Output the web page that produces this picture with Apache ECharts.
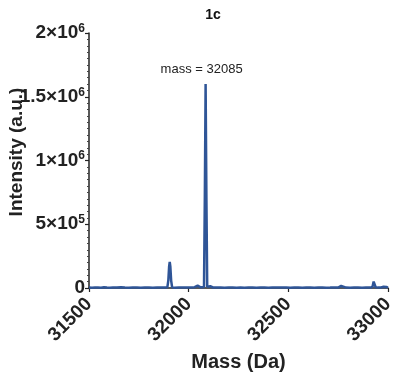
<!DOCTYPE html>
<html><head><meta charset="utf-8">
<script src="https://cdn.jsdelivr.net/npm/echarts@6/dist/echarts.min.js"></script>
<style>html,body{margin:0;padding:0;background:#fff}#c{width:401px;height:381px}</style>
</head><body><div id="c"></div>
<script>
const masses = [31500,31515,31530,31545,31560,31575,31590,31605,31620,31640,31660,31680,31700,31720,31740,31760,31780,31800,31820,31840,31860,31880,31893,31898,31902,31905,31908,31912,31917,31930,31950,31970,31990,32010,32030,32040,32045,32050,32060,32070,32077,32081,32085,32089,32093,32100,32108,32114,32122,32140,32160,32180,32200,32220,32240,32260,32280,32300,32320,32340,32360,32380,32400,32420,32440,32460,32465,32470,32490,32510,32530,32550,32570,32590,32610,32630,32650,32670,32690,32710,32725,32730,32735,32750,32760,32765,32770,32790,32810,32830,32850,32870,32890,32910,32922,32928,32932,32938,32950,32965,32978,32985,32992,33000];
const intensity = [3000,2000,4000,3000,2000,5000,3000,2000,4000,3000,5000,3000,2000,4000,3000,2000,4000,3000,2000,3000,4000,3000,5000,60000,170000,205000,170000,60000,5000,2000,3000,4000,3000,3000,6000,10000,18000,9000,5000,4000,8000,700000,1600000,700000,9000,5000,14000,9000,4000,3000,4000,2000,3000,4000,2000,3000,2000,4000,3000,2000,3000,4000,2000,3000,4000,3000,12000,4000,3000,2000,4000,3000,2000,3000,4000,2000,3000,4000,2000,3000,4000,14000,5000,3000,5000,16000,5000,3000,2000,4000,3000,2000,4000,3000,8000,50000,45000,6000,3000,4000,10000,18000,8000,3000];
const yTicks = [0, 500000, 1000000, 1500000, 2000000];
const yTickLabels = ['0', '5×10|5', '1×10|6', '1.5×10|6', '2×10|6'];
const xTicks = [31500, 32000, 32500, 33000];

const chart = echarts.init(document.getElementById('c'));
const font = 'Liberation Sans, Arial, sans-serif';
chart.setOption({
  animation: false,
  title: { text: '1c', left: 208, top: 3, textAlign: 'center',
    textStyle: { fontFamily: font, fontSize: 14, fontWeight: 'bold', color: '#111' } },
  graphic: [{
    type: 'text', x: 17, y: 152, rotation: Math.PI / 2,
    style: { text: 'Intensity (a.u.)', fontFamily: font, fontSize: 19, fontWeight: 'bold', fill: '#222',
      align: 'center', verticalAlign: 'middle' }
  }],
  grid: { left: 89, right: 13, top: 33, bottom: 93, containLabel: false, outerBoundsMode: 'none' },
  xAxis: {
    type: 'value', min: 31500, max: 33000, interval: 500,
    name: 'Mass (Da)', nameLocation: 'middle', nameGap: 60,
    nameTextStyle: { fontFamily: font, fontSize: 20, fontWeight: 'bold', color: '#222' },
    axisLine: { lineStyle: { color: '#222', width: 1.5 } },
    axisTick: { show: true, length: 4, lineStyle: { color: '#222', width: 1.2 } },
    splitLine: { show: false },
    axisLabel: { rotate: 45, margin: 13, fontFamily: font, fontSize: 19, fontWeight: 'bold', color: '#222',
      formatter: v => xTicks.indexOf(v) >= 0 ? String(v) : '' }
  },
  yAxis: {
    type: 'value', min: 0, max: 2000000, interval: 500000,
    axisLine: { show: true, lineStyle: { color: '#222', width: 1.5 } },
    axisTick: { show: true, length: 4, lineStyle: { color: '#222', width: 1.2 } },
    minorTick: { show: true, splitNumber: 10, length: 2, lineStyle: { color: '#444', width: 1 } },
    splitLine: { show: false },
    axisLabel: { margin: 4, color: '#222',
      formatter: v => {
        const i = yTicks.indexOf(v);
        if (i < 0) return '';
        const parts = yTickLabels[i].split('|');
        return parts.length > 1 ? '{b|' + parts[0] + '}{s|' + parts[1] + '}' : '{b|' + parts[0] + '}';
      },
      rich: {
        b: { fontFamily: font, fontSize: 19, fontWeight: 'bold', color: '#222' },
        s: { fontFamily: font, fontSize: 12, fontWeight: 'bold', color: '#222', verticalAlign: 'top', padding: [0,0,9,0] }
      }
    }
  },
  series: [{
    type: 'line', data: masses.map((m, i) => [m, intensity[i]]),
    symbol: 'none', lineStyle: { color: '#2f5597', width: 2.5 },
    markPoint: {
      symbol: 'circle', symbolSize: 0,
      data: [{ coord: [32085, 1600000] }],
      label: { show: true, position: 'top', offset: [-4, -3], formatter: 'mass = 32085',
        fontFamily: font, fontSize: 13, color: '#222' }
    }
  }]
});
</script></body></html>
